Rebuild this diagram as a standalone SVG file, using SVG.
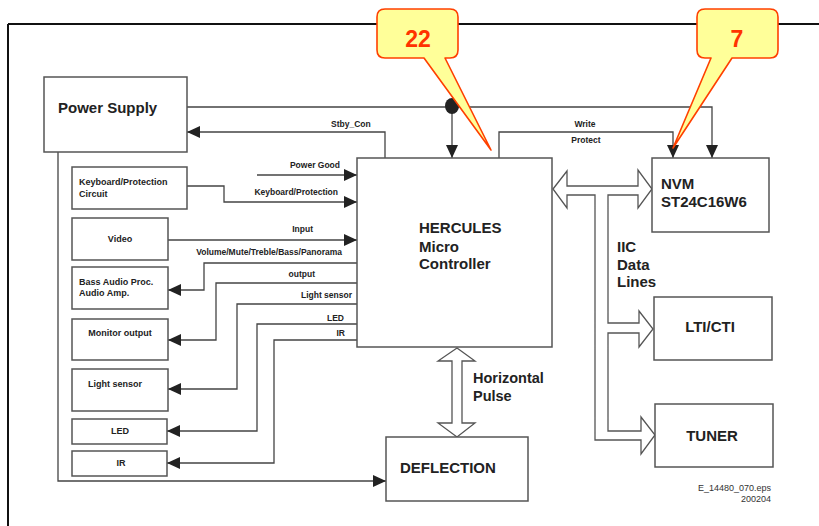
<svg xmlns="http://www.w3.org/2000/svg" width="819" height="526" viewBox="0 0 819 526">
<style>
.box{fill:#fff;stroke:#555;stroke-width:1.5}
.con{fill:none;stroke:#444;stroke-width:1.3}
.arr{marker-end:url(#ah)}
.hol{fill:#fff;stroke:#555;stroke-width:1.3;stroke-linejoin:miter}
.lbl{font-family:"Liberation Sans",Arial,sans-serif;font-weight:bold;font-size:8.5px;fill:#222}
.btx{font-family:"Liberation Sans",Arial,sans-serif;font-weight:bold;font-size:9px;fill:#222}
.big{font-family:"Liberation Sans",Arial,sans-serif;font-weight:bold;font-size:15px;fill:#222}
.small{font-family:"Liberation Sans",Arial,sans-serif;font-size:9px;fill:#333}
.call{fill:#ffff99;stroke:#ff4000;stroke-width:1.6;stroke-linejoin:round}
.ctx{font-family:"Liberation Sans",Arial,sans-serif;font-weight:bold;font-size:23px;fill:#ff3300;text-anchor:middle}
</style>
<defs>
<marker id="ah" markerWidth="13" markerHeight="12" refX="13" refY="6" orient="auto" markerUnits="userSpaceOnUse">
<path d="M0,0 L13,6 L0,12 Z" fill="#222"/>
</marker>
</defs>
<rect width="819" height="526" fill="#fff"/>
<g id="frame">
<path d="M8,24 H819 M8,24 V526" fill="none" stroke="#111" stroke-width="2"/>
</g>
<g id="connectors">
<path class="con arr" d="M187,107 H712 V158"/>
<path class="con arr" d="M452,107 V158"/>
<ellipse cx="452" cy="106" rx="7" ry="8" fill="#222"/>
<path class="con arr" d="M385,158 V132 H187"/>
<path class="con arr" d="M499,158 V132 H673 V158"/>
<path class="con arr" d="M257,175 H357"/>
<path class="con arr" d="M187,186 H224 V202 H357"/>
<path class="con arr" d="M168,240 H357"/>
<path class="con arr" d="M357,263 H204 V290 H168"/>
<path class="con arr" d="M357,283 H216 V340 H168"/>
<path class="con arr" d="M357,304 H237 V389 H168"/>
<path class="con arr" d="M357,324 H257 V431 H167"/>
<path class="con arr" d="M357,340 H274 V463 H167"/>
<path class="con arr" d="M58,152 V481 H386"/>
<polygon class="hol" points="553,189 567,171 567,186 638,186 638,170 652,189 638,208 638,195 608,195 608,323 639,323 639,311 653,329 639,347 639,333 608,333 608,431 641,431 641,417 655,435 641,454 641,440 595,440 595,195 567,195 567,208"/>
<polygon class="hol" points="457,348 475,361 462,361 462,423 475,423 457,437 438,423 452,423 452,361 438,361"/>
<text class="lbl" x="331" y="127">Stby_Con</text>
<text class="lbl" x="585" y="127" text-anchor="middle">Write</text>
<text class="lbl" x="586" y="143" text-anchor="middle">Protect</text>
<text class="lbl" x="340" y="168" text-anchor="end">Power Good</text>
<text class="lbl" x="338" y="195" text-anchor="end">Keyboard/Protection</text>
<text class="lbl" x="313" y="232" text-anchor="end">Input</text>
<text class="lbl" x="342" y="255" text-anchor="end">Volume/Mute/Treble/Bass/Panorama</text>
<text class="lbl" x="315" y="277" text-anchor="end">output</text>
<text class="lbl" x="352" y="298" text-anchor="end">Light sensor</text>
<text class="lbl" x="344" y="321" text-anchor="end">LED</text>
<text class="lbl" x="345" y="336" text-anchor="end">IR</text>
<text class="big" x="617" y="252">IIC</text>
<text class="big" x="617" y="270">Data</text>
<text class="big" x="617" y="287">Lines</text>
<text class="big" x="473" y="383" style="font-size:14.5px">Horizontal</text>
<text class="big" x="473" y="401" style="font-size:14.5px">Pulse</text>
</g>
<g id="power-supply">
<rect class="box" x="44" y="77" width="143" height="75"/>
<text class="big" x="58" y="113">Power Supply</text>
</g>
<g id="keyboard">
<rect class="box" x="72" y="167" width="115" height="42"/>
<text class="btx" x="79" y="185">Keyboard/Protection</text>
<text class="btx" x="79" y="197">Circuit</text>
</g>
<g id="video">
<rect class="box" x="72" y="218" width="96" height="42"/>
<text class="btx" x="120" y="242" text-anchor="middle">Video</text>
</g>
<g id="bass-audio">
<rect class="box" x="72" y="267" width="96" height="42"/>
<text class="btx" x="79" y="285">Bass Audio Proc.</text>
<text class="btx" x="79" y="296">Audio Amp.</text>
</g>
<g id="monitor-output">
<rect class="box" x="72" y="319" width="96" height="41"/>
<text class="btx" x="120" y="336" text-anchor="middle">Monitor output</text>
</g>
<g id="light-sensor">
<rect class="box" x="72" y="369" width="96" height="42"/>
<text class="btx" x="88" y="387">Light  sensor</text>
</g>
<g id="led">
<rect class="box" x="72" y="419" width="95" height="25"/>
<text class="btx" x="120" y="434" text-anchor="middle">LED</text>
</g>
<g id="ir">
<rect class="box" x="72" y="451" width="95" height="25"/>
<text class="btx" x="121" y="466" text-anchor="middle">IR</text>
</g>
<g id="hercules">
<rect class="box" x="357" y="158" width="195" height="189"/>
<text class="big" x="419" y="233">HERCULES</text>
<text class="big" x="419" y="252">Micro</text>
<text class="big" x="419" y="269">Controller</text>
</g>
<g id="nvm">
<rect class="box" x="652" y="158" width="117" height="74"/>
<text class="big" x="661" y="189">NVM</text>
<text class="big" x="661" y="207">ST24C16W6</text>
</g>
<g id="lti-cti">
<rect class="box" x="654" y="297" width="118" height="63"/>
<text class="big" x="710" y="332" text-anchor="middle">LTI/CTI</text>
</g>
<g id="tuner">
<rect class="box" x="655" y="404" width="118" height="63"/>
<text class="big" x="712" y="441" text-anchor="middle">TUNER</text>
</g>
<g id="deflection">
<rect class="box" x="386" y="437" width="142" height="64"/>
<text class="big" x="400" y="473">DEFLECTION</text>
</g>
<g id="footer">
<text class="small" x="771" y="491" text-anchor="end">E_14480_070.eps</text>
<text class="small" x="771" y="502" text-anchor="end">200204</text>
</g>
<g id="callout-22">
<path class="call" d="M385,9 H450 Q458,9 458,17 V50 Q458,58 450,58 H445 L491,150 L424,58 H385 Q377,58 377,50 V17 Q377,9 385,9 Z"/>
<text class="ctx" x="418" y="47">22</text>
</g>
<g id="callout-7">
<path class="call" d="M705,9 H770 Q778,9 778,17 V50 Q778,58 770,58 H732 L673,148 L711,58 H705 Q697,58 697,50 V17 Q697,9 705,9 Z"/>
<text class="ctx" x="737" y="47">7</text>
</g>
</svg>
